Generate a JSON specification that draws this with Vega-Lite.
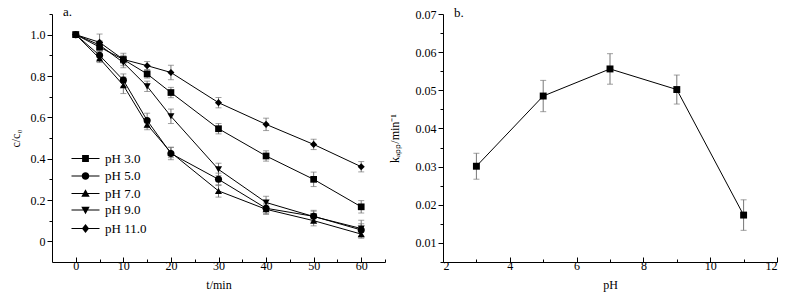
{
  "$schema": "https://vega.github.io/schema/vega-lite/v6.json",
  "background": "white",
  "padding": {"left": 9, "top": 6, "right": 10, "bottom": 5},
  "bounds": "flush",
  "spacing": 58,
  "datasets": {
    "kin": [
      {"pH": "pH 3.0", "t": 0, "c": 1.0, "err": 0.01},
      {"pH": "pH 3.0", "t": 5, "c": 0.94, "err": 0.02},
      {"pH": "pH 3.0", "t": 10, "c": 0.88, "err": 0.02},
      {"pH": "pH 3.0", "t": 15, "c": 0.81, "err": 0.02},
      {"pH": "pH 3.0", "t": 20, "c": 0.72, "err": 0.025},
      {"pH": "pH 3.0", "t": 30, "c": 0.545, "err": 0.025},
      {"pH": "pH 3.0", "t": 40, "c": 0.413, "err": 0.025},
      {"pH": "pH 3.0", "t": 50, "c": 0.30, "err": 0.035},
      {"pH": "pH 3.0", "t": 60, "c": 0.167, "err": 0.03},
      {"pH": "pH 5.0", "t": 0, "c": 1.0, "err": 0.01},
      {"pH": "pH 5.0", "t": 5, "c": 0.90, "err": 0.02},
      {"pH": "pH 5.0", "t": 10, "c": 0.78, "err": 0.03},
      {"pH": "pH 5.0", "t": 15, "c": 0.585, "err": 0.035},
      {"pH": "pH 5.0", "t": 20, "c": 0.425, "err": 0.03},
      {"pH": "pH 5.0", "t": 30, "c": 0.30, "err": 0.03},
      {"pH": "pH 5.0", "t": 40, "c": 0.16, "err": 0.025},
      {"pH": "pH 5.0", "t": 50, "c": 0.121, "err": 0.025},
      {"pH": "pH 5.0", "t": 60, "c": 0.055, "err": 0.03},
      {"pH": "pH 7.0", "t": 0, "c": 1.0, "err": 0.01},
      {"pH": "pH 7.0", "t": 5, "c": 0.885, "err": 0.02},
      {"pH": "pH 7.0", "t": 10, "c": 0.755, "err": 0.04},
      {"pH": "pH 7.0", "t": 15, "c": 0.565, "err": 0.025},
      {"pH": "pH 7.0", "t": 20, "c": 0.43, "err": 0.025},
      {"pH": "pH 7.0", "t": 30, "c": 0.244, "err": 0.03},
      {"pH": "pH 7.0", "t": 40, "c": 0.155, "err": 0.025},
      {"pH": "pH 7.0", "t": 50, "c": 0.10, "err": 0.025},
      {"pH": "pH 7.0", "t": 60, "c": 0.035, "err": 0.02},
      {"pH": "pH 9.0", "t": 0, "c": 1.0, "err": 0.01},
      {"pH": "pH 9.0", "t": 5, "c": 0.95, "err": 0.02},
      {"pH": "pH 9.0", "t": 10, "c": 0.865, "err": 0.025},
      {"pH": "pH 9.0", "t": 15, "c": 0.75, "err": 0.025},
      {"pH": "pH 9.0", "t": 20, "c": 0.605, "err": 0.035},
      {"pH": "pH 9.0", "t": 30, "c": 0.348, "err": 0.03},
      {"pH": "pH 9.0", "t": 40, "c": 0.188, "err": 0.03},
      {"pH": "pH 9.0", "t": 50, "c": 0.12, "err": 0.03},
      {"pH": "pH 9.0", "t": 60, "c": 0.062, "err": 0.04},
      {"pH": "pH 11.0", "t": 0, "c": 1.0, "err": 0.01},
      {"pH": "pH 11.0", "t": 5, "c": 0.963, "err": 0.04},
      {"pH": "pH 11.0", "t": 10, "c": 0.88, "err": 0.03},
      {"pH": "pH 11.0", "t": 15, "c": 0.85, "err": 0.02},
      {"pH": "pH 11.0", "t": 20, "c": 0.817, "err": 0.035},
      {"pH": "pH 11.0", "t": 30, "c": 0.671, "err": 0.025},
      {"pH": "pH 11.0", "t": 40, "c": 0.566, "err": 0.03},
      {"pH": "pH 11.0", "t": 50, "c": 0.469, "err": 0.025},
      {"pH": "pH 11.0", "t": 60, "c": 0.361, "err": 0.025}
    ],
    "rate": [
      {"pH": 3, "k": 0.0301, "err": 0.0034},
      {"pH": 5, "k": 0.0485, "err": 0.0041},
      {"pH": 7, "k": 0.0556, "err": 0.0040},
      {"pH": 9, "k": 0.0502, "err": 0.0038},
      {"pH": 11, "k": 0.0173, "err": 0.0040}
    ],
    "labA": [{"t": -2.7, "c": 1.088, "label": "a."}],
    "labB": [{"pH": 2.33, "k": 0.0693, "label": "b."}]
  },
  "hconcat": [
    {
      "width": 333,
      "height": 248,
      "data": {"name": "kin"},
      "encoding": {
        "x": {
          "field": "t", "type": "quantitative", "title": "t/min",
          "scale": {"domain": [-5, 65], "nice": false, "zero": false},
          "axis": {
            "values": [0, 5, 10, 15, 20, 25, 30, 35, 40, 45, 50, 55, 60, 65],
            "labelExpr": "datum.value % 10 == 0 ? datum.label : ''",
            "labelOverlap": false,
            "tickSize": {"condition": {"test": "datum.value % 10 == 0", "value": -5}, "value": -3},
            "labelPadding": 3,
            "titlePadding": 6
          }
        },
        "y": {
          "field": "c", "type": "quantitative", "title": "c/c₀",
          "scale": {"domain": [-0.1, 1.1], "nice": false, "zero": false},
          "axis": {
            "values": [0, 0.1, 0.2, 0.3, 0.4, 0.5, 0.6, 0.7, 0.8, 0.9, 1.0, 1.1],
            "labelExpr": "round(datum.value*10) % 2 == 0 ? (datum.value == 0 ? '0' : format(datum.value, '.1f')) : ''",
            "labelOverlap": false,
            "tickSize": {"condition": {"test": "round(datum.value*10) % 2 == 0", "value": 5}, "value": 3},
            "labelPadding": 2,
            "titlePadding": 8
          }
        }
      },
      "layer": [
        {
          "mark": {"type": "errorbar", "ticks": {"size": 6}, "color": "#777", "thickness": 1},
          "encoding": {"yError": {"field": "err"}, "detail": {"field": "pH"}}
        },
        {
          "mark": {"type": "line", "color": "black", "strokeWidth": 1},
          "encoding": {"detail": {"field": "pH"}}
        },
        {
          "transform": [{"filter": "datum.pH == 'pH 3.0'"}],
          "mark": {"type": "point", "filled": true, "color": "black", "size": 45, "opacity": 1, "shape": "square"}
        },
        {
          "transform": [{"filter": "datum.pH == 'pH 5.0'"}],
          "mark": {"type": "point", "filled": true, "color": "black", "size": 50, "opacity": 1, "shape": "circle"}
        },
        {
          "transform": [{"filter": "datum.pH == 'pH 7.0'"}],
          "mark": {"type": "point", "filled": true, "color": "black", "size": 50, "opacity": 1, "shape": "triangle-up"}
        },
        {
          "transform": [{"filter": "datum.pH == 'pH 9.0'"}],
          "mark": {"type": "point", "filled": true, "color": "black", "size": 50, "opacity": 1, "shape": "triangle-down"}
        },
        {
          "transform": [{"filter": "datum.pH == 'pH 11.0'"}],
          "mark": {"type": "point", "filled": true, "color": "black", "size": 50, "opacity": 1, "shape": "diamond"}
        },
        {
          "transform": [{"filter": "datum.t < -100"}],
          "mark": {"type": "point", "filled": true, "color": "black", "opacity": 1},
          "encoding": {
            "shape": {
              "field": "pH", "type": "nominal",
              "scale": {
                "domain": ["pH 3.0", "pH 5.0", "pH 7.0", "pH 9.0", "pH 11.0"],
                "range": [
                  "M-3.5,-0.13H3.5V0.13H-3.5ZM-0.85,-0.85H0.85V0.85H-0.85Z",
                  "M-3.5,-0.13H3.5V0.13H-3.5ZM-0.95,0A0.95,0.95,0,1,1,0.95,0A0.95,0.95,0,1,1,-0.95,0Z",
                  "M-3.5,-0.13H3.5V0.13H-3.5ZM0,-1.05L1.05,0.8L-1.05,0.8Z",
                  "M-3.5,-0.13H3.5V0.13H-3.5ZM0,1.05L-1.05,-0.8L1.05,-0.8Z",
                  "M-3.5,-0.13H3.5V0.13H-3.5ZM0,-1.15L0.9,0L0,1.15L-0.9,0Z"
                ]
              },
              "legend": {
                "title": null,
                "orient": "none",
                "legendX": 27,
                "legendY": 138,
                "padding": 0,
                "symbolSize": 64,
                "symbolFillColor": "black",
                "symbolOpacity": 1,
                "labelFont": "Liberation Serif",
                "labelFontSize": 13,
                "labelColor": "black",
                "labelOffset": 13,
                "rowPadding": 2.5
              }
            }
          }
        },
        {
          "data": {"name": "labA"},
          "mark": {"type": "text", "align": "left", "baseline": "alphabetic", "font": "Liberation Serif", "fontSize": 13, "color": "black"},
          "encoding": {"text": {"field": "label"}}
        }
      ]
    },
    {
      "width": 334,
      "height": 248,
      "data": {"name": "rate"},
      "encoding": {
        "x": {
          "field": "pH", "type": "quantitative", "title": "pH",
          "scale": {"domain": [2, 12], "nice": false, "zero": false},
          "axis": {
            "values": [2, 3, 4, 5, 6, 7, 8, 9, 10, 11, 12],
            "labelExpr": "datum.value % 2 == 0 ? datum.label : ''",
            "labelOverlap": false,
            "tickSize": {"condition": {"test": "datum.value % 2 == 0", "value": -5}, "value": -3},
            "labelPadding": 3,
            "titlePadding": 6
          }
        },
        "y": {
          "field": "k", "type": "quantitative", "title": "kₐₚₚ/min⁻¹",
          "scale": {"domain": [0.005, 0.07], "nice": false, "zero": false},
          "axis": {
            "values": [0.005, 0.01, 0.015, 0.02, 0.025, 0.03, 0.035, 0.04, 0.045, 0.05, 0.055, 0.06, 0.065, 0.07],
            "format": ".2f",
            "labelOverlap": false,
            "labelExpr": "abs(datum.value*100 - round(datum.value*100)) < 0.01 ? datum.label : ''",
            "tickSize": {"condition": {"test": "abs(datum.value*100 - round(datum.value*100)) < 0.01", "value": 5}, "value": 3},
            "labelPadding": 2,
            "titlePadding": 14
          }
        }
      },
      "layer": [
        {
          "mark": {"type": "errorbar", "ticks": {"size": 6}, "color": "#777", "thickness": 1},
          "encoding": {"yError": {"field": "err"}}
        },
        {
          "mark": {"type": "line", "color": "black", "strokeWidth": 1}
        },
        {
          "mark": {"type": "point", "filled": true, "color": "black", "size": 48, "shape": "square", "opacity": 1}
        },
        {
          "data": {"name": "labB"},
          "mark": {"type": "text", "align": "left", "baseline": "alphabetic", "font": "Liberation Serif", "fontSize": 13, "color": "black"},
          "encoding": {"text": {"field": "label"}}
        }
      ]
    }
  ],
  "config": {
    "view": {"stroke": null},
    "axis": {
      "grid": false,
      "domainColor": "black",
      "tickColor": "black",
      "labelColor": "black",
      "titleColor": "black",
      "labelFont": "Liberation Serif",
      "titleFont": "Liberation Serif",
      "labelFontSize": 12,
      "titleFontSize": 12,
      "titleFontWeight": "normal"
    }
  }
}
